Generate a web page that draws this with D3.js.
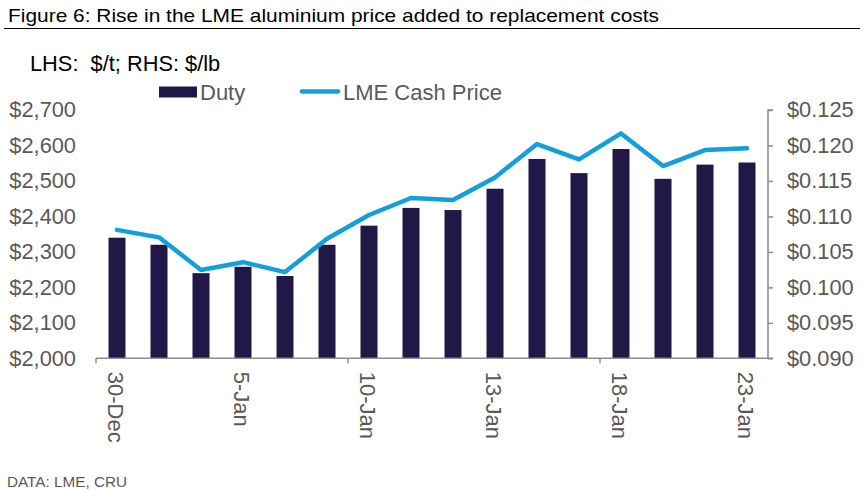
<!DOCTYPE html>
<html><head><meta charset="utf-8">
<script src="https://cdn.jsdelivr.net/npm/d3@7/dist/d3.min.js"></script>
<style>
html,body{margin:0;padding:0;background:#fff;}
svg{display:block;font-family:"Liberation Sans",Arial,sans-serif;}
</style></head>
<body>
<svg id="chart" width="865" height="490"></svg>
<script>
const categories = ["30-Dec","31-Dec","2-Jan","5-Jan","6-Jan","9-Jan","10-Jan","11-Jan","12-Jan","13-Jan","16-Jan","17-Jan","18-Jan","19-Jan","20-Jan","23-Jan"];
const shownLabels = ["30-Dec","5-Jan","10-Jan","13-Jan","18-Jan","23-Jan"];
const dutyValues = [0.1070,0.1060,0.1020,0.1029,0.1016,0.1060,0.1087,0.1112,0.1109,0.1139,0.1181,0.1161,0.1195,0.1153,0.1173,0.1176];
const lmeValues = [2362,2341,2249,2271,2243,2337,2404,2452,2446,2510,2604,2561,2634,2542,2587,2592];
const leftTicks = [2000,2100,2200,2300,2400,2500,2600,2700];
const rightTicks = [0.090,0.095,0.100,0.105,0.110,0.115,0.120,0.125];

const svg = d3.select("#chart");
const L = 96, R = 768, T = 110, B = 358.3;
const FONT = "Liberation Sans, Arial, sans-serif";

const x = d3.scaleBand().domain(categories).range([L, R]).paddingInner(0.595).paddingOuter(0.2975);
const yL = d3.scaleLinear().domain([2000, 2700]).range([B, T]);
const yR = d3.scaleLinear().domain([0.090, 0.125]).range([B, T]);

// Title
svg.append("text").attr("x", 8).attr("y", 21.8).attr("font-size", 17.8).attr("fill", "#000")
  .attr("textLength", 651).attr("lengthAdjust", "spacingAndGlyphs")
  .text("Figure 6: Rise in the LME aluminium price added to replacement costs");
svg.append("line").attr("x1", 4).attr("x2", 860).attr("y1", 28.5).attr("y2", 28.5)
  .attr("stroke", "#000").attr("stroke-width", 1.2);

svg.append("text").attr("x", 30).attr("y", 71).attr("font-size", 21.8).attr("fill", "#000")
  .style("white-space", "pre").text("LHS:  $/t; RHS: $/lb");

// Legend
svg.append("rect").attr("x", 159).attr("y", 86.5).attr("width", 38).attr("height", 11).attr("fill", "#211847");
svg.append("text").attr("x", 200).attr("y", 99.5).attr("font-size", 22).attr("fill", "#595959").text("Duty");
svg.append("line").attr("x1", 302).attr("x2", 338).attr("y1", 91.5).attr("y2", 91.5)
  .attr("stroke", "#129fdc").attr("stroke-width", 4.5).attr("stroke-linecap", "round");
svg.append("text").attr("x", 343).attr("y", 99.5).attr("font-size", 22).attr("fill", "#595959").text("LME Cash Price");

// Bars
svg.append("g").selectAll("rect").data(categories).join("rect")
  .attr("x", d => x(d)).attr("width", x.bandwidth())
  .attr("y", (d, i) => yR(dutyValues[i]))
  .attr("height", (d, i) => B - yR(dutyValues[i]))
  .attr("fill", "#211847");

// Line
const line = d3.line().x((d, i) => x(categories[i]) + x.bandwidth() / 2).y(d => yL(d));
svg.append("path").datum(lmeValues).attr("d", line)
  .attr("fill", "none").attr("stroke", "#129fdc").attr("stroke-width", 4.5)
  .attr("stroke-linejoin", "round").attr("stroke-linecap", "round");

// Left axis labels
const gl = svg.append("g").attr("transform", `translate(${L - 20},0)`)
  .call(d3.axisLeft(yL).tickValues(leftTicks).tickSize(0).tickPadding(0).tickFormat(d => "$" + d3.format(",")(d)));
gl.select(".domain").remove();
gl.selectAll("text").attr("font-size", 21.8).attr("fill", "#595959").attr("font-family", FONT);

// Right axis
const gr = svg.append("g").attr("transform", `translate(${R},0)`)
  .call(d3.axisRight(yR).tickValues(rightTicks).tickSize(5).tickPadding(14).tickFormat(d3.format("$.3f")));
gr.select(".domain").attr("stroke", "#8c8c8c").attr("stroke-width", 1.5).attr("d", `M5,${T}H0V${B}H5`);
gr.selectAll(".tick line").attr("stroke", "#8c8c8c").attr("stroke-width", 1.5);
gr.selectAll("text").attr("font-size", 21.8).attr("fill", "#595959").attr("font-family", FONT);

// X axis
const xAxis = svg.append("g").attr("transform", `translate(0,${B})`);
xAxis.append("line").attr("x1", L).attr("x2", R).attr("y1", 0).attr("y2", 0)
  .attr("stroke", "#8c8c8c").attr("stroke-width", 1.5);
const tickPos = [0, 6, 12].map(i => L + i * (R - L) / categories.length);
xAxis.selectAll("line.tk").data(tickPos).join("line").attr("class", "tk")
  .attr("x1", d => d).attr("x2", d => d).attr("y1", 0).attr("y2", 5)
  .attr("stroke", "#8c8c8c").attr("stroke-width", 1.5);
xAxis.selectAll("text").data(shownLabels).join("text")
  .attr("transform", d => `translate(${x(d) + x.bandwidth() / 2 - 9},13.5) rotate(90)`)
  .attr("font-size", 22).attr("fill", "#595959").attr("text-anchor", "start")
  .text(d => d);

// Footer
svg.append("text").attr("x", 7).attr("y", 486.5).attr("font-size", 14).attr("fill", "#595959")
  .attr("textLength", 120).attr("lengthAdjust", "spacingAndGlyphs").text("DATA: LME, CRU");
</script>
</body></html>
